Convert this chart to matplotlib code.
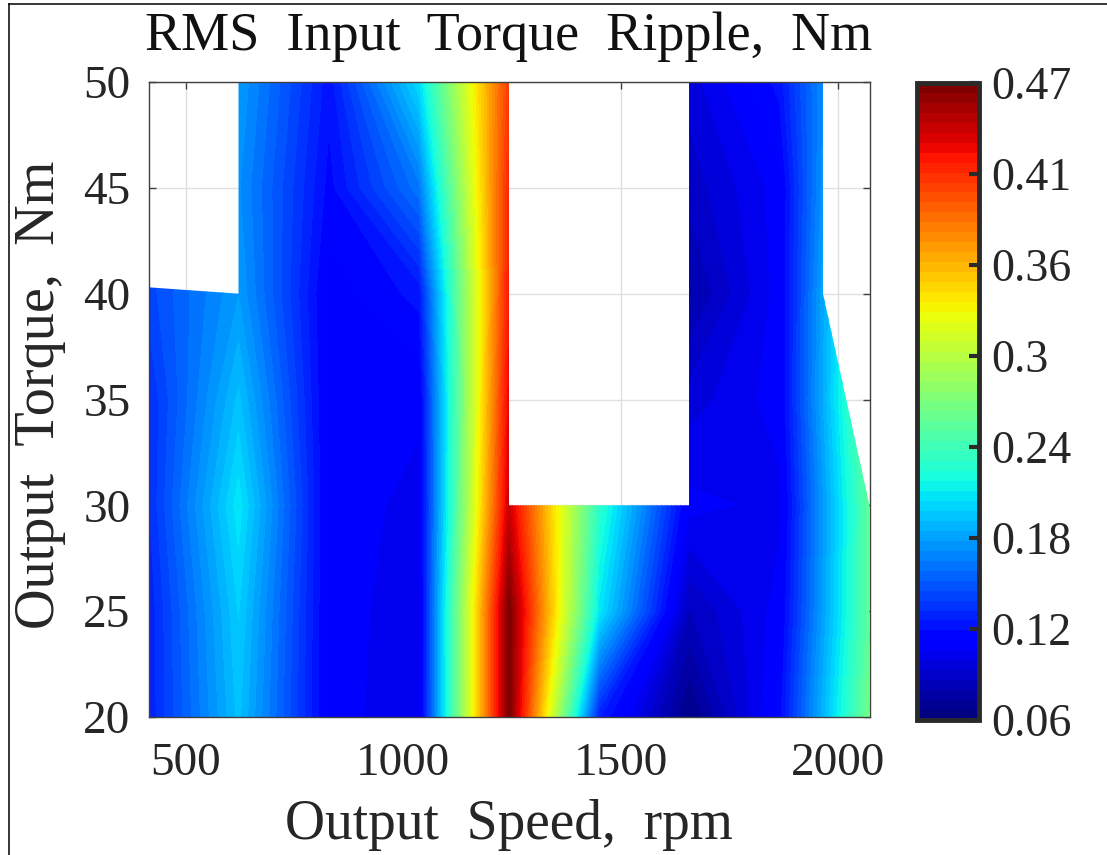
import numpy as np
import matplotlib
matplotlib.use('Agg')
import matplotlib.pyplot as plt
from matplotlib.lines import Line2D
from matplotlib.patches import Polygon

W, H = 1107, 855

speedRpm = [414, 621, 829, 1036, 1243, 1450, 1657, 1865, 2072]
torqueNm = [20, 25, 30, 35, 40, 45, 50]

# one row per torque, values (hidden points carry a neighbour's value)
ripple20 = [0.125, 0.190, 0.108, 0.100, 0.470, 0.125, 0.065, 0.115, 0.260]
ripple25 = [0.125, 0.195, 0.108, 0.101, 0.470, 0.205, 0.085, 0.108, 0.250]
ripple30 = [0.130, 0.205, 0.108, 0.103, 0.440, 0.225, 0.107, 0.103, 0.250]
ripple35 = [0.130, 0.190, 0.108, 0.106, 0.430, 0.225, 0.095, 0.108, 0.260]
ripple40 = [0.140, 0.175, 0.108, 0.120, 0.420, 0.225, 0.078, 0.108, 0.255]
ripple45 = [0.140, 0.170, 0.115, 0.160, 0.415, 0.225, 0.088, 0.108, 0.240]
ripple50 = [0.140, 0.175, 0.120, 0.200, 0.405, 0.225, 0.095, 0.120, 0.220]

# outline of the measured region
outlineX = [414, 2072, 2072, 1965, 1965, 1657, 1657, 1243, 1243, 621, 621, 414]
outlineY = [20, 20, 30, 40, 50, 50, 30, 30, 50, 50, 40, 40.3]

xTicks = [500, 1000, 1500, 2000]
yTicks = [20, 25, 30, 35, 40, 45, 50]
cbarTicks = [0.06, 0.1186, 0.1771, 0.2357, 0.2943, 0.3529, 0.4114, 0.47]
cbarLabels = ['0.06', '0.12', '0.18', '0.24', '0.3', '0.36', '0.41', '0.47']

plt.rcParams['font.family'] = ['Liberation Serif', 'DejaVu Serif']


def axBox(left, top, right, bottom):
    return [left / W, 1 - bottom / H, (right - left) / W, (bottom - top) / H]


fig = plt.figure(figsize=(W / 100, H / 100), dpi=100)
ax = fig.add_axes(axBox(148.5, 82, 869.5, 717))

Z = np.array([ripple20, ripple25, ripple30, ripple35, ripple40, ripple45, ripple50])
levels = np.linspace(0.06, 0.47, 65)
cs = ax.contourf(speedRpm, torqueNm, Z, levels=levels, cmap=plt.get_cmap('jet', 64), antialiased=False, extend='both')
cs.set_clip_path(Polygon(np.column_stack([outlineX, outlineY]), transform=ax.transData))

ax.set_xlim(414, 2072)
ax.set_ylim(20, 50)
ax.set_xticks(xTicks)
ax.set_yticks(yTicks)
ax.set_axisbelow(True)
ax.grid(True, color='#e0e0e0', linewidth=1)
ax.tick_params(axis='both', which='major', direction='in', top=True, right=True, length=5, width=1,
               color='#404040', labelsize=34, labelcolor='#262626')
ax.tick_params(axis='x', pad=18)
ax.tick_params(axis='y', pad=13)
for spine in ax.spines.values():
    spine.set_linewidth(1)
    spine.set_color('#404040')

# the original has wide word gaps, hence the double spaces
fig.text(509 / W, 1 - 37 / H, 'RMS  Input  Torque  Ripple,  Nm', fontsize=39, color='#111111', ha='center', va='center')
fig.text(509 / W, 1 - 825 / H, 'Output  Speed,  rpm', fontsize=40, color='#262626', ha='center', va='center')
fig.text(40 / W, 1 - 395 / H, 'Output  Torque,  Nm', fontsize=40.5, color='#262626', ha='center', va='center',
         rotation=90)

cax = fig.add_axes(axBox(917, 83, 978.5, 720))
sm = plt.cm.ScalarMappable(norm=plt.Normalize(0.06, 0.47), cmap=plt.get_cmap('jet', 64))
cbar = fig.colorbar(sm, cax=cax, ticks=cbarTicks)
cbar.ax.set_yticklabels(cbarLabels)
cbar.ax.tick_params(direction='in', length=7, width=3, color='#2a2a2a', labelsize=33, labelcolor='#262626', pad=9)
cbar.outline.set_linewidth(3.5)
cbar.outline.set_edgecolor('#2a2a2a')

# page frame of the original figure
fig.add_artist(Line2D([9 / W, 9 / W], [0, 1 - 4.5 / H], color='black', linewidth=1.1))
fig.add_artist(Line2D([9 / W, 1], [1 - 4.5 / H, 1 - 4.5 / H], color='black', linewidth=1.1))

fig.savefig('out.png', dpi=100)
